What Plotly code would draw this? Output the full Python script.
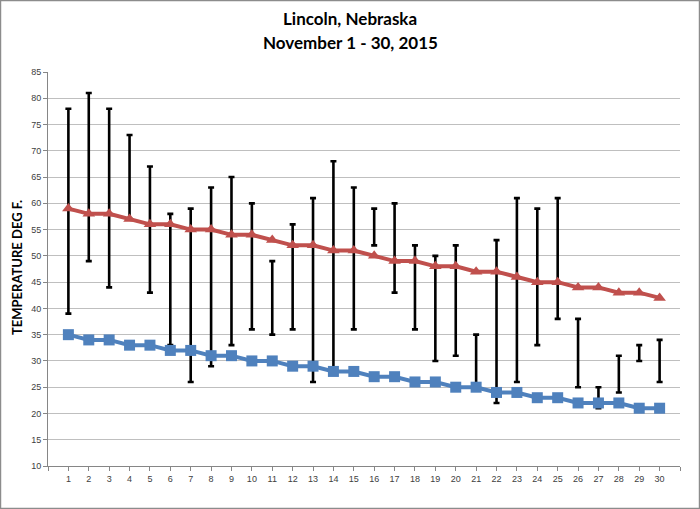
import plotly.graph_objects as go

days = list(range(1, 31))
normal_high = [59, 58, 58, 57, 56, 56, 55, 55, 54, 54, 53, 52, 52, 51, 51,
               50, 49, 49, 48, 48, 47, 47, 46, 45, 45, 44, 44, 43, 43, 42]
normal_low = [35, 34, 34, 33, 33, 32, 32, 31, 31, 30, 30, 29, 29, 28, 28,
              27, 27, 26, 26, 25, 25, 24, 24, 23, 23, 22, 22, 22, 21, 21]
actual_high = [78, 81, 78, 73, 67, 58, 59, 63, 65, 60, 49, 56, 61, 68, 63,
               59, 60, 52, 50, 52, 35, 53, 61, 59, 61, 38, 25, 31, 33, 34]
actual_low = [39, 49, 44, 57, 43, 33, 26, 29, 33, 36, 35, 36, 26, 28, 36,
              52, 43, 36, 30, 31, 25, 22, 26, 33, 38, 25, 21, 24, 30, 26]
y_ticks = list(range(10, 90, 5))

mid = [(h + l) / 2 for h, l in zip(actual_high, actual_low)]
half = [(h - l) / 2 for h, l in zip(actual_high, actual_low)]

fig = go.Figure()
fig.add_trace(go.Scatter(
    x=days, y=mid, mode="markers",
    marker=dict(size=1, color="rgba(0,0,0,0)"),
    error_y=dict(type="data", array=half, symmetric=True,
                 color="black", thickness=2.6, width=3),
    hoverinfo="skip", showlegend=False))
fig.add_trace(go.Scatter(
    x=days, y=normal_high, mode="lines+markers",
    line=dict(color="#C0504D", width=4),
    marker=dict(symbol="triangle-up", size=11, color="#C0504D"),
    showlegend=False))
fig.add_trace(go.Scatter(
    x=days, y=normal_low, mode="lines+markers",
    line=dict(color="#4F81BD", width=4),
    marker=dict(symbol="square", size=11, color="#4F81BD"),
    showlegend=False))

tickvals = list(range(0, 32))
ticktext = [str(v) if 1 <= v <= 30 else "" for v in tickvals]

title_font = dict(family="Lato", size=17, color="black", weight="bold")

fig.update_layout(
    width=700, height=509,
    margin=dict(l=48, r=20, t=72, b=43, autoexpand=False),
    paper_bgcolor="white", plot_bgcolor="white",
    font=dict(family="Liberation Sans, Arial, sans-serif", size=9, color="#404040"),
    xaxis=dict(
        range=[0, 31], tickmode="array", tickvals=tickvals, ticktext=ticktext,
        showgrid=False, zeroline=False, automargin=False,
        showline=True, linecolor="#868686", linewidth=1,
        ticks="outside", ticklen=4, tickcolor="#868686",
        tickfont=dict(size=9, color="#404040"),
    ),
    yaxis=dict(
        range=[10, 85], tickmode="array", tickvals=y_ticks,
        showgrid=True, gridcolor="#BFBFBF", gridwidth=1, zeroline=False,
        automargin=False,
        showline=True, linecolor="#868686", linewidth=1,
        ticks="outside", ticklen=4, tickcolor="#868686",
        tickfont=dict(size=9, color="#404040"),
    ),
    annotations=[
        dict(text="Lincoln, Nebraska", xref="paper", yref="paper",
             x=(350 - 48) / 632, y=(466 - 19) / 394, xanchor="center", yanchor="middle",
             showarrow=False, font=title_font),
        dict(text="November 1 - 30, 2015", xref="paper", yref="paper",
             x=(350 - 48) / 632, y=(466 - 42) / 394, xanchor="center", yanchor="middle",
             showarrow=False, font=title_font),
        dict(text="TEMPERATURE DEG F.", xref="paper", yref="paper",
             x=(17 - 48) / 632, y=(466 - 268) / 394, xanchor="center", yanchor="middle",
             textangle=-90, showarrow=False,
             font=dict(family="Lato", size=13, color="black", weight="bold")),
    ],
    shapes=[dict(type="rect", xref="paper", yref="paper",
                 x0=-0.0752, x1=1.0309, y0=-0.1079, y1=1.1815,
                 line=dict(color="#8C8C8C", width=1.5), layer="above")],
)

fig.write_html("out.html", config={"displayModeBar": False},
               post_script="document.body.style.margin='0px';document.body.style.overflow='hidden';")
